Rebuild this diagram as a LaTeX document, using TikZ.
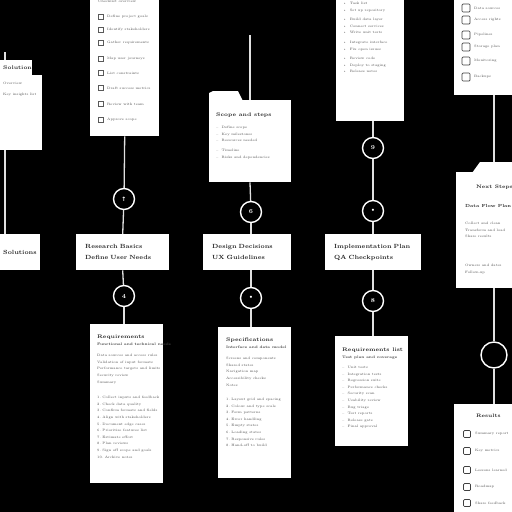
\documentclass[tikz,border=0pt]{standalone}
\usepackage{fontspec}
\newfontfamily\symfont{DejaVu Sans}
\pgfdeclarelayer{back}
\pgfdeclarelayer{wires}
\pgfsetlayers{back,wires,main}
\tikzset{
  card/.style={fill=white, inner sep=0, anchor=north west},
  box/.style={fill=white, anchor=north west, inner xsep=9pt, inner ysep=0pt, minimum height=36pt, align=left, font=\fontsize{6}{11}\selectfont\bfseries, text=black!85},
  wire/.style={draw=white!88!black, line width=1.3pt},
  ring/.style={circle, draw=white, line width=1.4pt, fill=black, minimum size=21pt, inner sep=0, text=white, font=\fontsize{6}{6}\selectfont\bfseries},
  ttl/.style={anchor=north west, inner sep=0, font=\fontsize{5.2}{6}\selectfont\bfseries, text=black!85},
  sub/.style={anchor=north west, inner sep=0, font=\fontsize{3.6}{6}\selectfont\bfseries, text=black!75},
  sm/.style={anchor=north west, inner sep=0, font=\fontsize{3.4}{6.6}\selectfont, text=black!70, align=left},
  chk/.style={draw=black!65, line width=0.5pt, minimum size=5pt, inner sep=0},
  ico/.style={draw=black!75, line width=0.7pt, rounded corners=1pt, minimum size=8pt, inner sep=0}
}
\begin{document}
\begin{tikzpicture}[x=1pt,y=-1pt]
\useasboundingbox (0,0) rectangle (512,512);
\begin{pgfonlayer}{back}
\fill[black] (0,0) rectangle (512,512);
\end{pgfonlayer}

% ---------------- column 0 (left edge) ----------------
\fill[white] (0,60) rectangle (32,76);
\node[card, minimum width=42pt, minimum height=75pt] (c0) at (0,75) {};
\node[ttl] (c0t) at (3,66) {Solution};
\node[sm] (c0s) at (3,82) {Overview\\[4pt]Key insights list};
\node[box, inner xsep=3pt, minimum width=36pt] (b0) at (0,234) {Solutions};
\coordinate (t0) at (5,52);

% ---------------- column 1 ----------------
\node[card, minimum width=69pt, minimum height=136pt] (c1) at (90,0) {};
\node[sm] (c1h) at (98,0) {Checklist overview};
\foreach \yy/\tx [count=\i] in {17/Define project goals, 30/Identify stakeholders, 43/Gather requirements, 59/Map user journeys, 73/List constraints, 88/Draft success metrics, 104/Review with team, 120/Approve scope}{
  \node[chk] (c1k\i) at (101,\yy) {};
  \node[sm, anchor=west] (c1x\i) at (107,\yy) {\tx};
}
\node[ring] (k1a) at (124,199) {{\symfont ↑}};
\node[box, minimum width=93pt, text width=75pt] (b1) at (76,234) {Research Basics\\Define User Needs};
\node[ring] (k1b) at (124,296) {4};
\node[card, minimum width=73pt, minimum height=159pt] (c1b) at (90,324) {};
\node[ttl] (c1bt) at (97,335) {Requirements};
\node[sub] (c1bs) at (97,343) {Functional and technical needs};
\node[sm] (c1bp) at (97,354) {Data sources and access rules\\Validation of input formats\\Performance targets and limits\\Security review};
\node[sm] (c1bn) at (97,381) {Summary};
\node[sm] (c1bl) at (97,396) {1.\ Collect inputs and feedback\\2.\ Check data quality\\3.\ Confirm formats and fields\\4.\ Align with stakeholders\\5.\ Document edge cases\\6.\ Prioritise features list\\7.\ Estimate effort\\8.\ Plan reviews\\9.\ Sign off scope and goals\\10.\ Archive notes};

% ---------------- column 2 ----------------
\coordinate (t2) at (250,35);
\fill[white] (209,101) -- (209,93) -- (213,91) -- (238,91) -- (243,101) -- cycle;
\node[card, minimum width=82pt, minimum height=82pt] (c2) at (209,100) {};
\node[ttl] (c2t) at (216,113) {Scope and steps};
\node[sm] (c2l) at (216,126) {--\ \ Define scope\\--\ \ Key milestones\\--\ \ Resources needed\\[3pt]--\ \ Timeline\\--\ \ Risks and dependencies};
\node[ring] (k2a) at (251,212) {6};
\node[box, minimum width=88pt, text width=70pt] (b2) at (203,234) {Design Decisions\\UX Guidelines};
\node[ring] (k2b) at (251,298) {{\symfont •}};
\node[card, minimum width=73pt, minimum height=151pt] (c2b) at (218,327) {};
\node[ttl] (c2bt) at (226,338) {Specifications};
\node[sub] (c2bs) at (226,346) {Interface and data model};
\node[sm] (c2bp) at (226,357) {Screens and components\\Shared states\\Navigation map\\Accessibility checks};
\node[sm] (c2bn) at (226,384) {Notes};
\node[sm] (c2bl) at (226,398) {1.\ Layout grid and spacing\\2.\ Colour and type scale\\3.\ Form patterns\\4.\ Error handling\\5.\ Empty states\\6.\ Loading states\\7.\ Responsive rules\\8.\ Hand-off to build};

% ---------------- column 3 ----------------
\node[card, minimum width=68pt, minimum height=121pt] (c3) at (336,0) {};
\node[sm] (c3l) at (343,2) {\textbullet\ \ Task list\\\textbullet\ \ Set up repository\\[3pt]\textbullet\ \ Build data layer\\\textbullet\ \ Connect services\\\textbullet\ \ Write unit tests\\[3pt]\textbullet\ \ Integrate interface\\\textbullet\ \ Fix open issues\\[3pt]\textbullet\ \ Review code\\\textbullet\ \ Deploy to staging\\\textbullet\ \ Release notes};
\node[ring] (k3a) at (373,148) {9};
\node[ring] (k3b) at (373,211) {{\symfont •}};
\node[box, minimum width=96pt, text width=78pt] (b3) at (325,234) {Implementation Plan\\QA Checkpoints};
\node[ring] (k3c) at (373,301) {8};
\node[card, minimum width=73pt, minimum height=110pt] (c3b) at (335,336) {};
\node[ttl] (c3bt) at (342,348) {Requirements list};
\node[sub] (c3bs) at (342,356) {Test plan and coverage};
\node[sm] (c3bl) at (342,366) {--\ \ Unit tests\\--\ \ Integration tests\\--\ \ Regression suite\\--\ \ Performance checks\\--\ \ Security scan\\--\ \ Usability review\\--\ \ Bug triage\\--\ \ Test reports\\--\ \ Release gate\\--\ \ Final approval};

% ---------------- column 4 (right edge) ----------------
\node[card, minimum width=58pt, minimum height=95pt] (c4) at (454,0) {};
\foreach \yy/\tx [count=\i] in {8/Data sources, 20/Access rights, 35/Pipelines, 47/Storage plan, 61/Monitoring, 77/Backups}{
  \node[ico] (c4k\i) at (466,\yy) {};
  \node[sm, anchor=west] (c4x\i) at (474,\yy) {\tx};
}
\fill[white] (472,173) -- (480,162) -- (512,162) -- (512,173) -- cycle;
\node[card, minimum width=56pt, minimum height=116pt] (c4m) at (456,172) {};
\node[ttl, font=\fontsize{5}{6}\selectfont\bfseries] (c4mt) at (476,185) {Next Steps};
\node[ttl, font=\fontsize{4.4}{5}\selectfont\bfseries] (c4ms) at (465,204) {Data Flow Plan};
\node[sm] (c4mp) at (465,222) {Collect and clean\\Transform and load\\Share results};
\node[sm] (c4mq) at (465,264) {Owners and dates\\Follow-up};
\node[ring, minimum size=26pt] (k4) at (494,355) {};
\node[card, minimum width=58pt, minimum height=108pt] (c4b) at (454,404) {};
\node[ttl, font=\fontsize{5}{6}\selectfont\bfseries] (c4bt) at (476,414) {Results};
\foreach \yy/\tx [count=\i] in {434/Summary report, 451/Key metrics, 470/Lessons learned, 487/Roadmap, 503/Share feedback}{
  \node[ico, minimum size=7pt] (c4bk\i) at (467,\yy) {};
  \node[sm, anchor=west] (c4bx\i) at (475,\yy) {\tx};
}

% ---------------- connectors ----------------
\begin{pgfonlayer}{wires}
\draw[wire] (t0) -- (t0 |- b0.north);
\draw[wire] (c1.south) -- (k1a);
\draw[wire] (k1a) -- (b1.north);
\draw[wire] (b1.south) -- (k1b);
\draw[wire] (k1b) -- (c1b.north -| k1b);
\draw[wire] (t2) -- (t2 |- c2.south);
\draw[wire] (t2 |- c2.south) -- (k2a);
\draw[wire] (k2a) -- (b2.north -| k2a);
\draw[wire] (b2.south -| k2b) -- (k2b);
\draw[wire] (k2b) -- (c2b.north -| k2b);
\draw[wire] (c3.south -| k3a) -- (k3a);
\draw[wire] (k3a) -- (k3b);
\draw[wire] (k3b) -- (b3.north -| k3b);
\draw[wire] (b3.south -| k3c) -- (k3c);
\draw[wire] (k3c) -- (c3b.north -| k3c);
\draw[wire] (c4.south -| k4) -- (c4m.north -| k4);
\draw[wire] (c4m.south -| k4) -- (k4);
\draw[wire] (k4) -- (c4b.north -| k4);
\end{pgfonlayer}
\end{tikzpicture}
\end{document}
